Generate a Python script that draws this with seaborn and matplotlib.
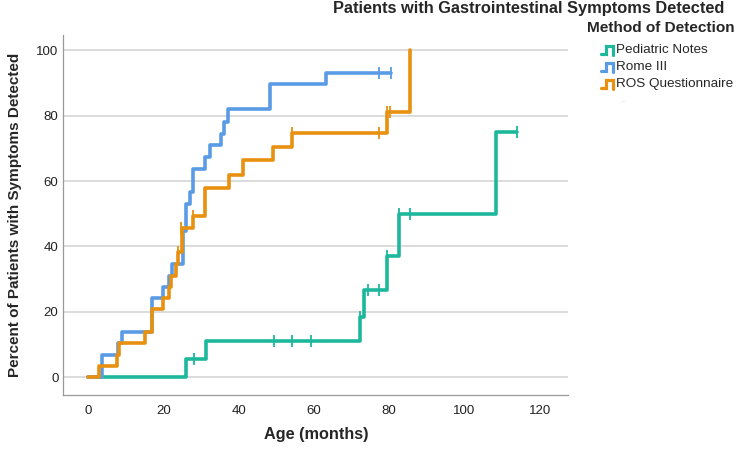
import numpy as np
import pandas as pd
import seaborn as sns
import matplotlib.pyplot as plt
from matplotlib.lines import Line2D

methods = ["Pediatric Notes", "Rome III", "ROS Questionnaire"]
colors = ["#1db89c", "#5a9be6", "#e8900f"]

# Kaplan-Meier style steps (age in months, cumulative percent detected)
notes_age = [0, 26.1, 31.2, 72.3, 73.2, 79.4, 82.5, 108.4, 114]
notes_pct = [0, 5.6, 11.1, 18.4, 26.6, 37.1, 49.8, 75.0, 75.0]
notes_cens_age = [28.2, 49.3, 54.2, 59.2, 72.3, 74.4, 77.4, 79.4, 82.5, 85.5, 114]
notes_cens_pct = [5.6, 11.1, 11.1, 11.1, 18.4, 26.6, 26.6, 37.1, 49.8, 49.8, 75.0]

rome_age = [0, 3.6, 8.0, 8.9, 16.9, 20.0, 21.4, 22.2, 25.2, 26.0, 27.2, 28.0,
            31.0, 32.3, 35.2, 36.0, 37.1, 48.3, 63.3, 80.6]
rome_pct = [0, 6.9, 10.3, 13.8, 24.1, 27.6, 31.0, 34.5, 44.8, 53.1, 56.5, 63.8,
            67.4, 71.0, 74.5, 78.1, 82.0, 89.6, 93.1, 93.1]
rome_cens_age = [77.4, 80.6]
rome_cens_pct = [93.1, 93.1]

ros_age = [0, 3.0, 7.8, 8.3, 15.1, 16.9, 20.0, 21.4, 22.0, 23.3, 23.8, 25.0,
           27.9, 31.0, 37.4, 41.1, 49.1, 54.1, 79.4, 85.6]
ros_pct = [0, 3.4, 6.9, 10.3, 13.8, 20.7, 24.1, 27.6, 31.0, 34.5, 38.3, 45.5,
           49.3, 57.8, 62.0, 66.3, 70.5, 74.8, 81.0, 100.0]
ros_cens_age = [23.8, 24.8, 27.8, 54.1, 77.4, 79.4, 80.2]
ros_cens_pct = [38.3, 45.5, 49.3, 74.8, 74.8, 81.0, 81.0]

curves = pd.concat([
    pd.DataFrame({"age": notes_age, "pct": notes_pct, "method": methods[0]}),
    pd.DataFrame({"age": rome_age, "pct": rome_pct, "method": methods[1]}),
    pd.DataFrame({"age": ros_age, "pct": ros_pct, "method": methods[2]}),
])
censored = pd.concat([
    pd.DataFrame({"age": notes_cens_age, "pct": notes_cens_pct, "method": methods[0]}),
    pd.DataFrame({"age": rome_cens_age, "pct": rome_cens_pct, "method": methods[1]}),
    pd.DataFrame({"age": ros_cens_age, "pct": ros_cens_pct, "method": methods[2]}),
])

sns.set_style("white")
plt.rcParams["font.family"] = ["Liberation Sans", "DejaVu Sans"]
palette = dict(zip(methods, colors))

W, H = 744, 453
fig, ax = plt.subplots(figsize=(W / 100, H / 100), dpi=100)
fig.subplots_adjust(left=0.085, right=0.764, bottom=0.128, top=0.922)

ax.yaxis.grid(True, color="#d9d9d9", linewidth=1.3)
ax.set_axisbelow(True)

sns.lineplot(data=curves, x="age", y="pct", hue="method", hue_order=methods,
             palette=palette, estimator=None, sort=False, drawstyle="steps-post",
             linewidth=2.6, legend=False, ax=ax)
for m in methods:
    d = censored[censored["method"] == m]
    ax.plot(d["age"], d["pct"], linestyle="none", marker="|", markersize=8,
            markeredgewidth=1.3, color=palette[m])

ax.set_xlim(-6.6, 127.6)
ax.set_ylim(-5.5, 104.6)
ax.set_xticks(range(0, 121, 20))
ax.set_yticks(range(0, 101, 20))
ax.tick_params(axis="both", labelsize=9.5, colors="#222222", length=4,
               width=0.8, direction="out")
ax.tick_params(axis="x", color="#bbbbbb")
ax.tick_params(axis="y", length=0)
for s in ["top", "right"]:
    ax.spines[s].set_visible(False)
for s in ["left", "bottom"]:
    ax.spines[s].set_color("#999999")
    ax.spines[s].set_linewidth(0.9)

ax.set_xlabel("Age (months)", fontsize=11.7, fontweight="bold", labelpad=7)
ax.set_ylabel("Percent of Patients with Symptoms Detected", fontsize=11,
              fontweight="bold", labelpad=10)
fig.text(529 / W, 1 - 9 / H, "Patients with Gastrointestinal Symptoms Detected",
         ha="center", va="center", fontsize=11.8, fontweight="bold")

# legend drawn by hand (title, step icons, labels)
fig.text(587 / W, 1 - 28 / H, "Method of Detection", ha="left", va="center",
         fontsize=11.1, fontweight="bold")
for i, (m, c) in enumerate(zip(methods, colors)):
    yc = 50 + 17 * i
    xs = [601, 606, 606, 613, 613]
    ys = [yc + 4, yc + 4, yc - 4, yc - 4, yc + 5]
    fig.add_artist(Line2D([x / W for x in xs], [1 - y / H for y in ys],
                          transform=fig.transFigure, color=c, linewidth=2.3,
                          solid_joinstyle="miter"))
    fig.text(616 / W, 1 - yc / H, m, ha="left", va="center", fontsize=9.7)
fig.text(621 / W, 1 - 100 / H, "...", ha="left", va="center", fontsize=4,
         color="#bbbbbb")

fig.savefig("out.png", dpi=100)
